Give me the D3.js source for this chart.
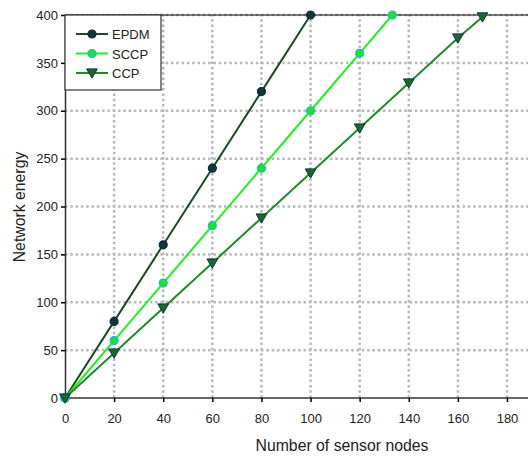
<!DOCTYPE html>
<html>
<head>
<meta charset="utf-8">
<script src="https://cdn.jsdelivr.net/npm/d3@7"></script>
<style>
  body { margin: 0; background: #fff; }
  text { font-family: "Liberation Sans", Arial, sans-serif; }
</style>
</head>
<body>
<div id="chart"></div>
<script>
// data
var epdmX = [0, 20, 40, 60, 80, 100];
var epdmY = [0, 80, 160, 240, 320, 400];
var sccpX = [0, 20, 40, 60, 80, 100, 120, 133.3];
var sccpY = [0, 60, 120, 180, 240, 300, 360, 400];
var ccpX = [0, 20, 40, 60, 80, 100, 120, 140, 160, 170];
var ccpY = [0, 47, 94, 141, 188, 235, 282, 329, 376, 398];
var xTicks = [0, 20, 40, 60, 80, 100, 120, 140, 160, 180];
var yTicks = [0, 50, 100, 150, 200, 250, 300, 350, 400];

var W = 528, H = 457;

var svg = d3.select("#chart").append("svg")
    .attr("width", W).attr("height", H);

var x = d3.scaleLinear().domain([0, 180]).range([65, 507]);
var y = d3.scaleLinear().domain([0, 400]).range([398, 15]);

// grid
var grid = svg.append("g");
grid.selectAll("line.v").data(xTicks.slice(1)).enter().append("line")
    .attr("x1", d => x(d)).attr("x2", d => x(d))
    .attr("y1", y(0)).attr("y2", y(400))
    .attr("stroke", "#b8b8b8").attr("stroke-width", 2.5)
    .attr("stroke-dasharray", "2.5,2.8");
grid.selectAll("line.h").data(yTicks.slice(1)).enter().append("line")
    .attr("x1", x(0)).attr("x2", W)
    .attr("y1", d => y(d)).attr("y2", d => y(d))
    .attr("stroke", "#b8b8b8").attr("stroke-width", 2.5)
    .attr("stroke-dasharray", "2.5,2.8");

// top border
svg.append("line")
    .attr("x1", x(0)).attr("x2", W)
    .attr("y1", y(400)).attr("y2", y(400))
    .attr("stroke", "#000").attr("stroke-width", 1.2);

// axes
var xAxis = svg.append("g")
    .attr("transform", "translate(0," + y(0) + ")")
    .call(d3.axisBottom(x).tickValues(xTicks).tickSize(4).tickSizeOuter(0).tickPadding(12));
xAxis.select(".domain").attr("d", "M" + x(0) + ",0H" + W).attr("stroke-width", 1.5).attr("stroke", "#333");

var yAxis = svg.append("g")
    .attr("transform", "translate(" + x(0) + ",0)")
    .call(d3.axisLeft(y).tickValues(yTicks).tickSize(4).tickSizeOuter(0).tickPadding(3));
yAxis.select(".domain").attr("stroke-width", 1.5).attr("stroke", "#333");

svg.selectAll(".tick text")
    .attr("font-size", 13).attr("fill", "#222")
    .style("font-family", "'Liberation Sans', Arial, sans-serif");
svg.selectAll(".tick line").attr("stroke-width", 1.5);

// axis labels
svg.append("text")
    .attr("x", 342).attr("y", 451)
    .attr("text-anchor", "middle")
    .attr("font-size", 15.8).attr("fill", "#222")
    .text("Number of sensor nodes");
svg.append("text")
    .attr("transform", "translate(25,207) rotate(-90)")
    .attr("text-anchor", "middle")
    .attr("font-size", 15.8).attr("fill", "#222")
    .text("Network energy");

var series = [
    { name: "EPDM", xs: epdmX, ys: epdmY, line: "#1c4a22", fill: "#0f3a2a", stroke: "#13235a", shape: "circle" },
    { name: "SCCP", xs: sccpX, ys: sccpY, line: "#22ee22", fill: "#22e022", stroke: "#1bb4e6", shape: "circle" },
    { name: "CCP", xs: ccpX, ys: ccpY, line: "#218a2a", fill: "#1a6a22", stroke: "#14305a", shape: "tri" }
];

var lineGen = d3.line().x(d => x(d[0])).y(d => y(d[1]));
var triSym = d3.symbol().type(d3.symbolTriangle).size(50);

function marker(g, s, cx, cy) {
    if (s.shape === "circle") {
        g.append("circle").attr("cx", cx).attr("cy", cy).attr("r", 4)
            .attr("fill", s.fill).attr("stroke", s.stroke).attr("stroke-width", 1.2);
    } else {
        g.append("path").attr("d", triSym)
            .attr("transform", "translate(" + cx + "," + (cy - 1) + ") rotate(180)")
            .attr("fill", s.fill).attr("stroke", s.stroke).attr("stroke-width", 1);
    }
}

series.forEach(function (s) {
    var pts = s.xs.map((v, i) => [v, s.ys[i]]);
    svg.append("path").datum(pts)
        .attr("fill", "none").attr("stroke", s.line).attr("stroke-width", 2)
        .attr("d", lineGen);
    var g = svg.append("g");
    pts.forEach(p => marker(g, s, x(p[0]), y(p[1])));
});

// legend
var leg = svg.append("g");
leg.append("rect").attr("x", x(0)).attr("y", y(400))
    .attr("width", 96).attr("height", 75)
    .attr("fill", "#fff").attr("stroke", "#333").attr("stroke-width", 1.2);
series.forEach(function (s, i) {
    var ly = 34 + i * 19.5;
    leg.append("line").attr("x1", 76).attr("x2", 108).attr("y1", ly).attr("y2", ly)
        .attr("stroke", s.line).attr("stroke-width", 2);
    marker(leg, s, 92, ly);
    leg.append("text").attr("x", 112).attr("y", ly + 5)
        .attr("font-size", 13).attr("fill", "#222").text(s.name);
});
</script>
</body>
</html>
